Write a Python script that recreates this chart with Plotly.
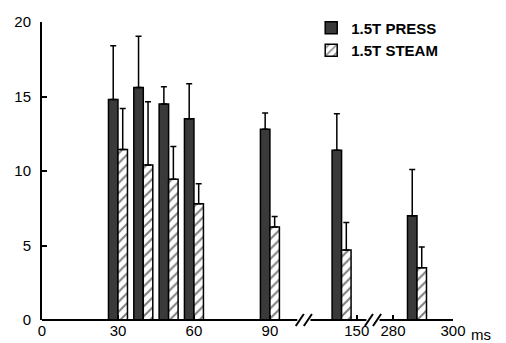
import plotly.graph_objects as go

# Data
te_ms = [30, 40, 50, 60, 90, 144, 288]
press_mean = [14.8, 15.6, 14.5, 13.5, 12.8, 11.4, 7.0]
press_upper = [18.4, 19.05, 15.65, 15.85, 13.9, 13.85, 10.1]
steam_mean = [11.45, 10.4, 9.45, 7.8, 6.25, 4.7, 3.5]
steam_upper = [14.2, 14.65, 11.65, 9.15, 6.95, 6.55, 4.9]
tick_ms = [0, 30, 60, 90, 150, 280, 300]
tick_labels = ["0", "30", "60", "90", "150", "280", "300"]
series_names = ["1.5T PRESS", "1.5T STEAM"]

# Broken-axis scale: three linear segments
def axis_pos(ms):
    if ms <= 100:
        return ms
    elif ms <= 200:
        return ms - 25.7
    return 138.6 + (ms - 280) * 1.185

X_MAX = axis_pos(300)
xs = [axis_pos(v) for v in te_ms]
FONT = "Liberation Sans, Arial, sans-serif"

fig = go.Figure()
fig.add_trace(go.Bar(
    x=xs, y=press_mean, name=series_names[0],
    marker=dict(color="#3a3a3a", line=dict(color="black", width=1.5)),
    error_y=dict(type="data", symmetric=False,
                 array=[u - m for u, m in zip(press_upper, press_mean)],
                 arrayminus=[0] * len(te_ms),
                 color="black", thickness=1.5, width=3),
))
fig.add_trace(go.Bar(
    x=xs, y=steam_mean, name=series_names[1],
    marker=dict(color="white", line=dict(color="black", width=1.5),
                pattern=dict(shape="/", fgcolor="black", bgcolor="white",
                             size=7, solidity=0.28)),
    error_y=dict(type="data", symmetric=False,
                 array=[u - m for u, m in zip(steam_upper, steam_mean)],
                 arrayminus=[0] * len(te_ms),
                 color="black", thickness=1.5, width=3),
))

# broken x-axis line drawn in paper coordinates
def px(v):
    return v / X_MAX

breaks = [103.4, 130.7]
gap = 2.6
segs = [(0, breaks[0] - gap), (breaks[0] + gap, breaks[1] - gap), (breaks[1] + gap, X_MAX)]
shapes = []
for a, b in segs:
    shapes.append(dict(type="line", xref="paper", yref="paper", x0=px(a), x1=px(b),
                       y0=0, y1=0, line=dict(color="black", width=2)))
for bk in breaks:
    for off in (-1.6, 1.6):
        c = bk + off
        shapes.append(dict(type="line", xref="paper", yref="paper",
                           x0=px(c - 1.6), x1=px(c + 1.6), y0=-0.02, y1=0.02,
                           line=dict(color="black", width=2)))

fig.update_layout(
    width=506, height=343,
    margin=dict(l=42, r=53, t=18, b=23),
    paper_bgcolor="white", plot_bgcolor="white",
    barmode="group", bargap=0.25, bargroupgap=0,
    font=dict(family=FONT, size=15, color="black"),
    showlegend=True,
    legend=dict(x=0.655, y=1.035, xanchor="left", yanchor="top",
                bgcolor="rgba(0,0,0,0)", tracegroupgap=0,
                font=dict(family=FONT, size=15, color="black", weight="bold"),
                itemwidth=30),
    shapes=shapes,
    annotations=[dict(text="ms", xref="paper", yref="paper", x=1.0, y=0,
                      xanchor="left", yanchor="top", xshift=16, yshift=-4,
                      showarrow=False, font=dict(family=FONT, size=15))],
)
fig.update_xaxes(range=[0, X_MAX], tickvals=[axis_pos(v) for v in tick_ms],
                 ticktext=tick_labels, ticks="inside", ticklen=5, tickwidth=2,
                 tickcolor="black", showline=False, showgrid=False, zeroline=False,
                 tickangle=0, automargin=False)
fig.update_yaxes(range=[0, 20], tickvals=[0, 5, 10, 15, 20], ticks="inside",
                 ticklen=5, tickwidth=2, tickcolor="black", showline=True,
                 linecolor="black", linewidth=2, showgrid=False, zeroline=False,
                 ticklabelstandoff=6, automargin=False)

fig.write_html("out.html", config={"displayModeBar": False},
               post_script="document.body.style.margin='0';document.body.style.overflow='hidden';")
